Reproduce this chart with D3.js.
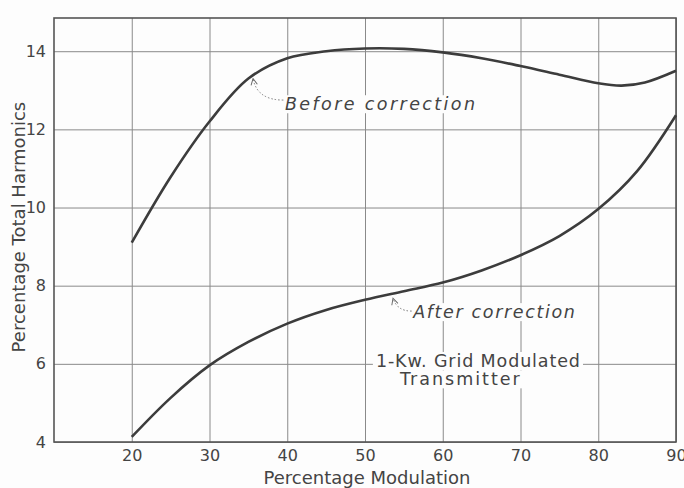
<!DOCTYPE html>
<html>
<head>
<meta charset="utf-8">
<script src="https://cdn.jsdelivr.net/npm/d3@7"></script>
<style>
  body { margin: 0; background: #fdfdfd; }
  svg { display: block; }
  text { font-family: "DejaVu Sans", sans-serif; fill: #444; }
</style>
</head>
<body>
<svg></svg>
<script>
/**
 * data: modulation % against total harmonics %
 */
let modulation = [20, 25, 30, 35, 40, 45, 50, 55, 60, 65, 70, 75, 80, 83, 86, 90];
let beforeCorrection = [9.1, 10.78, 12.2, 13.3, 13.82, 14.0, 14.07, 14.06, 13.97, 13.82, 13.62, 13.4, 13.18, 13.12, 13.2, 13.5];
let modulationAfter = [20, 25, 30, 35, 40, 45, 50, 55, 60, 65, 70, 75, 80, 85, 90];
let afterCorrection = [4.13, 5.13, 5.96, 6.56, 7.03, 7.38, 7.64, 7.86, 8.08, 8.39, 8.78, 9.27, 9.96, 10.93, 12.36];
let xTicks = [20, 30, 40, 50, 60, 70, 80, 90];
let yTicks = [4, 6, 8, 10, 12, 14];

/**
 * margins and size of the plotting area
 */
let margin = { top: 18, right: 8, bottom: 46, left: 54 },
    width = 684 - margin.left - margin.right,
    height = 488 - margin.top - margin.bottom;

let x = d3.scaleLinear().domain([10, 90]).range([0, width]),
    y = d3.scaleLinear().domain([4, 14.85]).range([height, 0]);

let chart = d3.select("svg")
    .attr("width", 684)
    .attr("height", 488)
    .append("g")
    .attr("transform", "translate(" + margin.left + "," + margin.top + ")");

// grid lines
chart.append("g")
    .attr("class", "grid")
    .call(d3.axisBottom(x).tickValues(xTicks).tickSize(height).tickFormat(""))
    .call(g => g.select(".domain").remove())
    .call(g => g.selectAll("line").attr("stroke", "#8a8a8a").attr("stroke-width", 1));
chart.append("g")
    .attr("class", "grid")
    .call(d3.axisLeft(y).tickValues(yTicks).tickSize(-width).tickFormat(""))
    .call(g => g.select(".domain").remove())
    .call(g => g.selectAll("line").attr("stroke", "#8a8a8a").attr("stroke-width", 1));

// tick labels
chart.append("g")
    .attr("transform", "translate(0," + height + ")")
    .call(d3.axisBottom(x).tickValues(xTicks).tickSize(0).tickPadding(8))
    .call(g => g.select(".domain").remove())
    .call(g => g.selectAll("text").attr("font-size", 16).attr("font-family", "DejaVu Sans").attr("fill", "#555"));
chart.append("g")
    .call(d3.axisLeft(y).tickValues(yTicks).tickSize(0).tickPadding(8))
    .call(g => g.select(".domain").remove())
    .call(g => g.selectAll("text").attr("font-size", 16).attr("font-family", "DejaVu Sans").attr("fill", "#555"));

// frame
chart.append("rect")
    .attr("width", width)
    .attr("height", height)
    .attr("fill", "none")
    .attr("stroke", "#555")
    .attr("stroke-width", 1.6);

/**
 * annotations, placed in data units (start, end, baseline); a white box behind each breaks the grid
 */
let notes = [
    { x: 39.7, x2: 64.15, y: 12.49, text: "Before correction", italic: true },
    { x: 56.2, x2: 77.0, y: 7.17, text: "After correction", italic: true },
    { x: 51.4, x2: 77.65, y: 5.92, text: "1-Kw. Grid Modulated", italic: false },
    { x: 54.5, x2: 69.9, y: 5.45, text: "Transmitter", italic: false }
];
let noteG = chart.append("g");
notes.forEach(function (n) {
    let t = noteG.append("text")
        .attr("x", x(n.x))
        .attr("y", y(n.y))
        .attr("font-size", 17.5)
        .attr("font-style", n.italic ? "italic" : "normal")
        .attr("textLength", x(n.x2) - x(n.x))
        .attr("lengthAdjust", "spacing")
        .text(n.text);
    let b = t.node().getBBox();
    noteG.insert("rect", "text")
        .attr("x", b.x - 3)
        .attr("y", b.y + 1)
        .attr("width", b.width + 6)
        .attr("height", b.height - 2)
        .attr("fill", "#fdfdfd");
});

// dotted pointers from label to curve
let pointers = [
    { from: [39.5, 12.75], to: [35.6, 13.3] },
    { from: [56.0, 7.35], to: [53.6, 7.68] }
];
chart.append("defs").append("marker")
    .attr("id", "head")
    .attr("viewBox", "0 0 10 10")
    .attr("refX", 9).attr("refY", 5)
    .attr("markerWidth", 8).attr("markerHeight", 8)
    .attr("orient", "auto")
    .append("path")
    .attr("d", "M1,1 L9,5 L1,9")
    .attr("fill", "none")
    .attr("stroke", "#666")
    .attr("stroke-width", 1.2);
pointers.forEach(function (p) {
    let x0 = x(p.from[0]), y0 = y(p.from[1]), x1 = x(p.to[0]), y1 = y(p.to[1]);
    chart.append("path")
        .attr("d", "M" + x0 + "," + y0 + " Q" + (x1 + 4) + "," + y0 + " " + x1 + "," + y1)
        .attr("fill", "none")
        .attr("stroke", "#777")
        .attr("stroke-width", 1)
        .attr("stroke-dasharray", "1.5,2")
        .attr("marker-end", "url(#head)");
});

// curves
let line = d3.line().curve(d3.curveCatmullRom.alpha(0.5));
chart.append("path")
    .attr("d", line(modulation.map((m, i) => [x(m), y(beforeCorrection[i])])))
    .attr("fill", "none")
    .attr("stroke", "#3c3c3c")
    .attr("stroke-width", 2.6);
chart.append("path")
    .attr("d", line(modulationAfter.map((m, i) => [x(m), y(afterCorrection[i])])))
    .attr("fill", "none")
    .attr("stroke", "#3c3c3c")
    .attr("stroke-width", 2.6);

// axis titles
chart.append("text")
    .attr("x", x(50) + 2)
    .attr("y", height + 42)
    .attr("text-anchor", "middle")
    .attr("font-size", 18)
    .text("Percentage Modulation");
chart.append("text")
    .attr("transform", "translate(" + (-margin.left + 25) + "," + y(9.5) + ") rotate(-90)")
    .attr("text-anchor", "middle")
    .attr("font-size", 18)
    .text("Percentage Total Harmonics");
</script>
</body>
</html>
